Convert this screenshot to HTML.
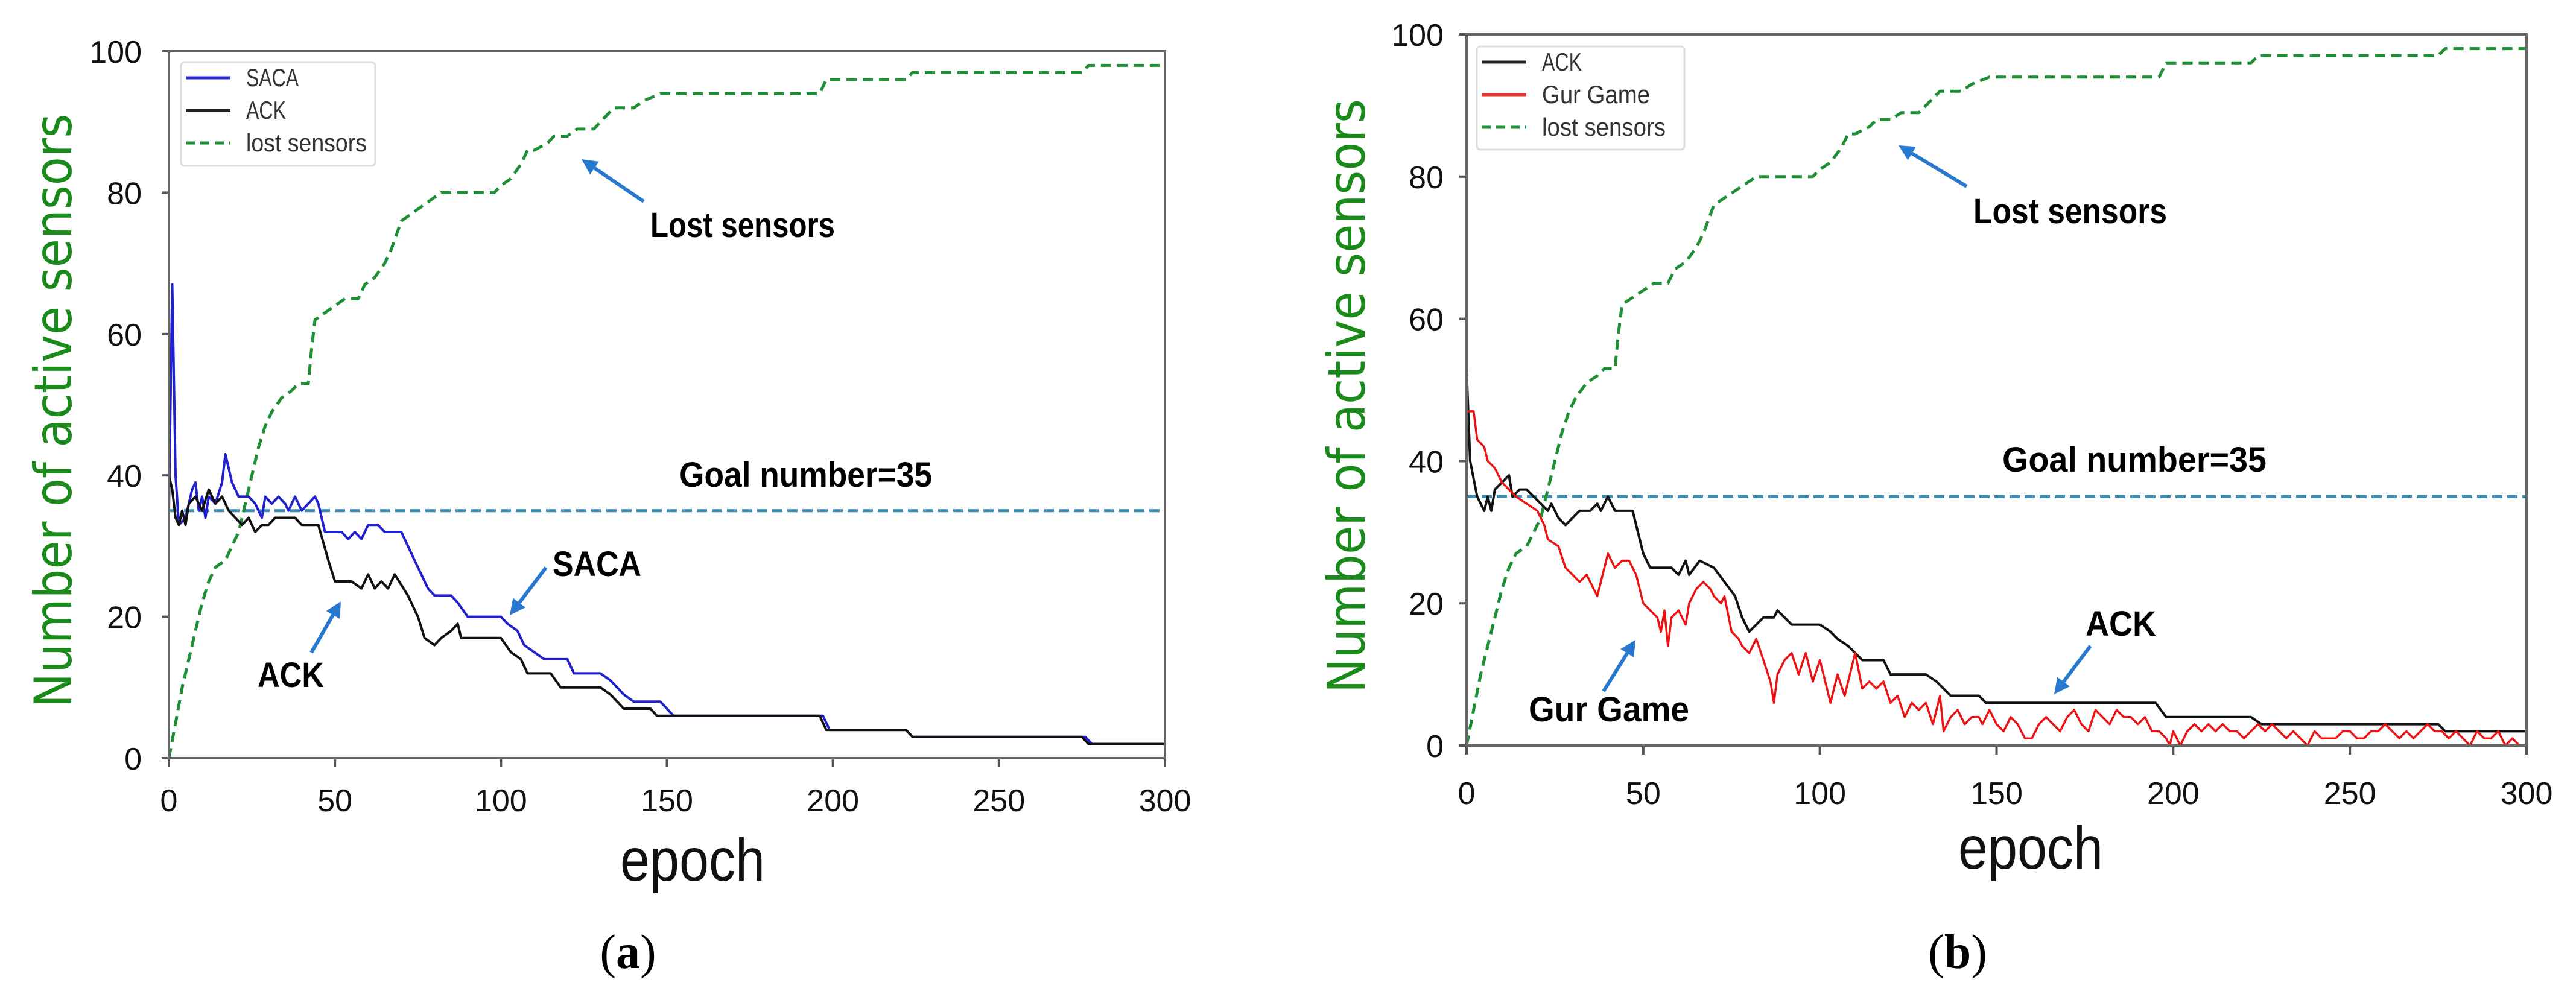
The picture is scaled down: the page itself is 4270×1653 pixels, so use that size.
<!DOCTYPE html>
<html><head><meta charset="utf-8"><style>
html,body{margin:0;padding:0;background:#fff;}
svg{display:block;}
</style></head><body>
<svg id="fig" width="4270" height="1653" viewBox="0 0 4270 1653" xmlns="http://www.w3.org/2000/svg"></svg>
<script>
// ---------- data ----------
const xTicks = [0,50,100,150,200,250,300];
const yTicks = [0,20,40,60,80,100];
const goalValue = 35;
const lostEpochs = [0,2,4,6,8,10,12,14,17,19,21,23,25,27,29,31,34,37,39,42,43,44,47,50,53,57,59,62,65,67,70,73,76,79,82,98,100,103,106,108,110,114,116,120,123,128,130,134,140,143,148,196,198,222,224,275,277,300];
const lostValues = [0,5,10,14,18,22,25,27,28,30,32,36,40,44,47,49,51,52,53,53,58,62,63,64,65,65,67,68,70,72,76,77,78,79,80,80,81,82,84,86,86,87,88,88,89,89,90,92,92,93,94,94,96,96,97,97,98,98];
const sacaEpochs = [0,1,2,3,5,7,8,9,10,11,12,14,16,17,18,19,21,24,26,27,28,29,31,33,35,36,38,40,42,44,45,47,52,54,56,58,60,63,65,70,72,74,76,78,80,85,87,90,100,102,105,107,110,113,120,122,130,133,135,137,140,148,150,152,197,199,222,224,276,278,300];
const sacaValues = [35,67,40,33,34,38,39,35,37,34,37,36,39,43,41,39,37,37,36,35,34,37,36,37,36,35,37,35,36,37,36,32,32,31,32,31,33,33,32,32,30,28,26,24,23,23,22,20,20,19,18,16,15,14,14,12,12,11,10,9,8,8,7,6,6,4,4,3,3,2,2];
const ackAEpochs = [0,1,2,3,4,5,6,8,10,12,14,16,18,20,22,24,26,28,30,32,35,38,40,42,45,48,50,55,58,60,62,64,66,68,72,75,77,80,82,85,87,88,100,103,106,108,115,118,130,133,135,137,145,147,196,198,222,224,275,277,300];
const ackAValues = [40,38,34,33,35,33,36,37,35,38,36,37,35,34,33,34,32,33,33,34,34,34,33,33,33,28,25,25,24,26,24,25,24,26,23,20,17,16,17,18,19,17,17,15,14,12,12,10,10,9,8,7,7,6,6,4,4,3,3,2,2];
const ackBEpochs = [0,1,3,5,6,7,8,10,12,13,15,17,19,21,23,24,26,28,30,32,35,37,38,40,42,45,47,48,50,52,58,60,62,63,66,70,73,76,78,80,82,84,87,88,90,92,100,103,105,108,110,112,118,120,130,133,135,137,145,147,195,198,222,225,275,277,300];
const ackBValues = [53,40,35,33,35,33,36,37,38,35,36,36,35,34,33,34,32,31,32,33,33,34,33,35,33,33,33,31,27,25,25,24,26,24,26,25,23,21,18,16,17,18,18,19,18,17,17,16,15,14,13,12,12,10,10,9,8,7,7,6,6,4,4,3,3,2,2];
const gurEpochs = [0,2,3,5,6,8,10,12,14,17,20,22,23,26,28,30,32,34,36,37,38,40,42,44,46,48,50,52,54,55,56,57,58,60,62,63,65,67,69,70,72,73,75,77,78,80,82,84,86,87,88,90,92,94,96,98,100,102,103,105,107,108,110,112,114,116,118,120,122,124,126,128,130,132,134,135,137,139,141,143,145,146,148,150,152,154,156,158,160,162,164,166,168,170,172,174,176,178,180,182,184,186,188,190,192,194,196,198,199,200,202,204,206,208,210,212,214,216,218,220,222,224,226,228,230,232,234,236,238,240,242,244,246,248,250,252,254,256,258,260,262,264,266,268,270,272,274,276,278,280,282,284,286,288,290,292,294,296,298,300];
const gurValues = [47,47,43,42,40,39,37,36,35,34,33,31,29,28,25,24,23,24,22,21,23,27,25,26,26,24,20,19,18,16,19,14,18,19,17,20,22,23,22,21,20,21,16,15,14,13,15,12,9,6,10,12,13,10,13,9,12,8,6,10,7,9,13,8,9,8,9,6,7,4,6,5,6,3,7,2,4,5,3,4,4,3,5,3,2,4,3,1,1,3,4,3,2,4,5,3,2,5,4,3,5,4,4,3,4,2,2,1,0,2,0,2,3,2,3,2,3,2,2,1,2,3,2,3,2,1,2,1,0,2,1,1,1,2,2,1,1,2,2,3,2,1,2,1,2,3,2,2,1,2,1,0,2,1,1,2,0,1,0,0];

const NS = "http://www.w3.org/2000/svg";
const svg = document.getElementById('fig');
const SANS = 'font-family:"Liberation Sans",sans-serif';
function mk(tag, attrs, parent){
  const e = document.createElementNS(NS, tag);
  for (const k in attrs) e.setAttribute(k, attrs[k]);
  (parent||svg).appendChild(e);
  return e;
}
function makePanel(P){
  const g = mk('g', {});
  
  
  const sx = v => P.L + (v/300)*(P.R-P.L);
  const sy = v => P.B - (v/100)*(P.B-P.T);
  xTicks.forEach(t => {
    const tk = mk('line', {x1:sx(t), x2:sx(t), y1:P.B, y2:P.B+15, stroke:'#555', 'stroke-width':4}, g);
    
    
    const tl = mk('text', {x:sx(t), y:P.B+P.xlabDy, 'font-size':52, 'text-anchor':'middle', fill:'#111', style:SANS}, g);
    tl.textContent = t;
    
    
  });
  yTicks.forEach(t => {
    const tk = mk('line', {x1:P.L-12, x2:P.L, y1:sy(t), y2:sy(t), stroke:'#555', 'stroke-width':4}, g);
    
    
    const tl = mk('text', {x:P.L-P.ylabDx, y:sy(t)+19, 'font-size':52, 'text-anchor':'end', fill:'#111', style:SANS}, g);
    tl.textContent = t;
    
    
  });
  const gl = mk('line', {x1:P.L, x2:P.R, y1:sy(goalValue), y2:sy(goalValue), stroke:'#3d8db5', 'stroke-width':5, 'stroke-dasharray':'17 8'}, g);
  
  
  P.series.forEach(s => {
    const pts = s.x.map((e,i) => sx(e).toFixed(1)+','+sy(s.y[i]).toFixed(1)).join(' ');
    const pl = mk('polyline', {points:pts, fill:'none', stroke:s.color, 'stroke-width':s.w, 'stroke-linejoin':'round'}, g);
    if (s.dash) pl.setAttribute('stroke-dasharray', s.dash);
    
    
  });
  const fr = mk('rect', {x:P.L, y:P.T, width:P.R-P.L, height:P.B-P.T, fill:'none', stroke:'#666', 'stroke-width':4}, g);
  
  
  const lg = mk('g', {}, g);
  
  
  mk('rect', {x:P.leg.x, y:P.leg.y, width:P.leg.w, height:P.leg.h, rx:6, fill:'#fff', stroke:'#ddd', 'stroke-width':3}, lg);
  P.leg.items.forEach((it,i) => {
    const yy = P.leg.y + 26 + i*54;
    const ln = mk('line', {x1:P.leg.x+8, x2:P.leg.x+82, y1:yy, y2:yy, stroke:it.color, 'stroke-width':5}, lg);
    if (it.dash) ln.setAttribute('stroke-dasharray', '15 9');
    
    
    const tx = mk('text', {x:P.leg.x+108, y:yy+14, 'font-size':42, fill:'#333', style:SANS, textLength:it.w, lengthAdjust:'spacingAndGlyphs'}, lg);
    tx.textContent = it.label;
    
    
  });
  const yt = mk('text', {x:0, y:0, 'font-size':86, fill:'#1a8a1a', 'text-anchor':'middle', style:'font-family:"DejaVu Sans",sans-serif', textLength:985, lengthAdjust:'spacingAndGlyphs', transform:`translate(${P.ytx},${(P.T+P.B)/2+10}) rotate(-90)`}, g);
  yt.textContent = 'Number of active sensors';
  
  
  const xt = mk('text', {x:P.xtx, y:P.xty, 'font-size':100, fill:'#111', 'text-anchor':'middle', style:SANS, textLength:240, lengthAdjust:'spacingAndGlyphs'}, g);
  xt.textContent = 'epoch';
  
  
  P.notes.forEach(n => {
    const t = mk('text', {x:n.x, y:n.y+20, 'font-size':58, 'font-weight':'bold', fill:'#000', style:SANS, textLength:n.w, lengthAdjust:'spacingAndGlyphs'}, g);
    t.textContent = n.t;
    
    
  });
  P.arrows.forEach(a => {
    const dx = a[2]-a[0], dy = a[3]-a[1], L = Math.hypot(dx,dy), ux = dx/L, uy = dy/L;
    const bx = a[2]-ux*26, by = a[3]-uy*26;
    const ar = mk('g', {}, g);
    
    
    mk('line', {x1:a[0], y1:a[1], x2:bx, y2:by, stroke:'#2878d0', 'stroke-width':6}, ar);
    mk('polygon', {points:`${a[2]},${a[3]} ${bx-uy*13},${by+ux*13} ${bx+uy*13},${by-ux*13}`, fill:'#2878d0'}, ar);
  });
  const cp = mk('text', {x:P.capx, y:1605, 'font-size':80, fill:'#000', 'text-anchor':'middle', style:'font-family:"Liberation Serif",serif'}, g);
  cp.innerHTML = '(<tspan font-weight="bold">' + P.cap + '</tspan>)';
  
  
}
makePanel({
  id:'panel-a', L:280, R:1931, T:85, B:1257, xlabDy:88, ylabDx:45, ytx:118, xtx:1148, xty:1460, capx:1041, cap:'a',
  series:[
    {name:'lost-sensors-line', x:lostEpochs, y:lostValues, color:'#1f8f35', w:5, dash:'17 10'},
    {name:'saca-line', x:sacaEpochs, y:sacaValues, color:'#2020cc', w:4},
    {name:'ack-line', x:ackAEpochs, y:ackAValues, color:'#111', w:4}
  ],
  leg:{x:300, y:103, w:322, h:172, items:[{label:'SACA',color:'#2a2ad0',w:87},{label:'ACK',color:'#222',w:66},{label:'lost sensors',color:'#1f8f35',dash:true,w:200}]},
  notes:[{t:'Lost sensors',x:1078,y:373,w:306},{t:'Goal number=35',x:1126,y:787,w:419},{t:'SACA',x:916,y:935,w:147},{t:'ACK',x:427,y:1119,w:110}],
  arrows:[[1067,334,964,264],[905,941,845,1020],[516,1082,565,997]]
});
makePanel({
  id:'panel-b', L:2431, R:4188, T:57, B:1236, xlabDy:97, ylabDx:38, ytx:2262, xtx:3366, xty:1440, capx:3245, cap:'b',
  series:[
    {name:'lost-sensors-line', x:lostEpochs, y:lostValues, color:'#1f8f35', w:5, dash:'17 10'},
    {name:'ack-line', x:ackBEpochs, y:ackBValues, color:'#111', w:4},
    {name:'gur-game-line', x:gurEpochs, y:gurValues, color:'#ee1111', w:3.5}
  ],
  leg:{x:2448, y:77, w:344, h:171, items:[{label:'ACK',color:'#222',w:66},{label:'Gur Game',color:'#e83030',w:179},{label:'lost sensors',color:'#1f8f35',dash:true,w:205}]},
  notes:[{t:'Lost sensors',x:3271,y:350,w:321},{t:'Goal number=35',x:3319,y:762,w:438},{t:'ACK',x:3457,y:1034,w:117},{t:'Gur Game',x:2534,y:1176,w:266}],
  arrows:[[3260,309,3147,241],[3465,1071,3405,1151],[2658,1146,2711,1061]]
});
</script>
</body></html>
